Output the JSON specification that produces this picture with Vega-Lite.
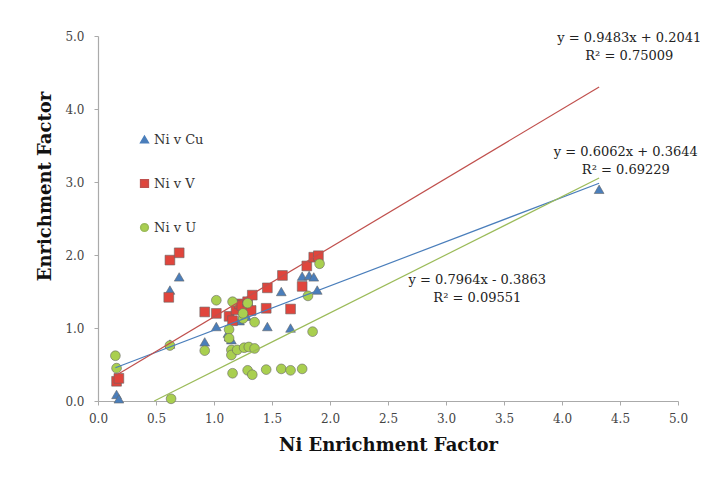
{
  "$schema": "https://vega.github.io/schema/vega-lite/v6.json",
  "width": 580,
  "height": 365,
  "autosize": {"type": "none"},
  "padding": {"left": 98, "top": 36, "right": 27, "bottom": 80},
  "background": "white",
  "config": {
    "view": {"stroke": null},
    "font": "DejaVu Serif",
    "axis": {
      "grid": false,
      "labelFont": "DejaVu Serif",
      "labelFontSize": 12,
      "labelColor": "#444",
      "titleFont": "DejaVu Serif",
      "titleFontSize": 18,
      "titleFontWeight": "bold",
      "titleColor": "#111",
      "domainColor": "#aaa",
      "domainWidth": 1.2,
      "tickColor": "#aaa",
      "tickSize": 4
    }
  },
  "datasets": {
    "pts": [
      {"series": "Ni v Cu", "ni": 0.16, "ef": 0.09},
      {"series": "Ni v Cu", "ni": 0.18, "ef": 0.03},
      {"series": "Ni v Cu", "ni": 0.62, "ef": 0.78},
      {"series": "Ni v Cu", "ni": 0.62, "ef": 1.52},
      {"series": "Ni v Cu", "ni": 0.70, "ef": 1.70},
      {"series": "Ni v Cu", "ni": 0.92, "ef": 0.81},
      {"series": "Ni v Cu", "ni": 1.02, "ef": 1.02},
      {"series": "Ni v Cu", "ni": 1.12, "ef": 0.93},
      {"series": "Ni v Cu", "ni": 1.15, "ef": 0.84},
      {"series": "Ni v Cu", "ni": 1.13, "ef": 0.88},
      {"series": "Ni v Cu", "ni": 1.22, "ef": 1.10},
      {"series": "Ni v Cu", "ni": 1.28, "ef": 1.16},
      {"series": "Ni v Cu", "ni": 1.46, "ef": 1.02},
      {"series": "Ni v Cu", "ni": 1.58, "ef": 1.50},
      {"series": "Ni v Cu", "ni": 1.66, "ef": 1.00},
      {"series": "Ni v Cu", "ni": 1.76, "ef": 1.71},
      {"series": "Ni v Cu", "ni": 1.82, "ef": 1.72},
      {"series": "Ni v Cu", "ni": 1.86, "ef": 1.70},
      {"series": "Ni v Cu", "ni": 1.89, "ef": 1.52},
      {"series": "Ni v Cu", "ni": 4.32, "ef": 2.90},
      {"series": "Ni v V", "ni": 0.16, "ef": 0.27},
      {"series": "Ni v V", "ni": 0.18, "ef": 0.31},
      {"series": "Ni v V", "ni": 0.61, "ef": 1.42},
      {"series": "Ni v V", "ni": 0.62, "ef": 1.93},
      {"series": "Ni v V", "ni": 0.70, "ef": 2.03},
      {"series": "Ni v V", "ni": 0.92, "ef": 1.22},
      {"series": "Ni v V", "ni": 1.02, "ef": 1.20},
      {"series": "Ni v V", "ni": 1.13, "ef": 1.16},
      {"series": "Ni v V", "ni": 1.16, "ef": 1.10},
      {"series": "Ni v V", "ni": 1.19, "ef": 1.25},
      {"series": "Ni v V", "ni": 1.22, "ef": 1.33},
      {"series": "Ni v V", "ni": 1.24, "ef": 1.31},
      {"series": "Ni v V", "ni": 1.29, "ef": 1.36},
      {"series": "Ni v V", "ni": 1.33, "ef": 1.45},
      {"series": "Ni v V", "ni": 1.32, "ef": 1.24},
      {"series": "Ni v V", "ni": 1.46, "ef": 1.55},
      {"series": "Ni v V", "ni": 1.45, "ef": 1.27},
      {"series": "Ni v V", "ni": 1.59, "ef": 1.72},
      {"series": "Ni v V", "ni": 1.66, "ef": 1.26},
      {"series": "Ni v V", "ni": 1.76, "ef": 1.57},
      {"series": "Ni v V", "ni": 1.80, "ef": 1.85},
      {"series": "Ni v V", "ni": 1.86, "ef": 1.97},
      {"series": "Ni v V", "ni": 1.90, "ef": 1.99},
      {"series": "Ni v U", "ni": 0.15, "ef": 0.62},
      {"series": "Ni v U", "ni": 0.16, "ef": 0.45},
      {"series": "Ni v U", "ni": 0.62, "ef": 0.76},
      {"series": "Ni v U", "ni": 0.63, "ef": 0.03},
      {"series": "Ni v U", "ni": 0.92, "ef": 0.69},
      {"series": "Ni v U", "ni": 1.02, "ef": 1.38},
      {"series": "Ni v U", "ni": 1.13, "ef": 0.98},
      {"series": "Ni v U", "ni": 1.13, "ef": 0.86},
      {"series": "Ni v U", "ni": 1.15, "ef": 0.70},
      {"series": "Ni v U", "ni": 1.15, "ef": 0.63},
      {"series": "Ni v U", "ni": 1.20, "ef": 0.70},
      {"series": "Ni v U", "ni": 1.26, "ef": 0.73},
      {"series": "Ni v U", "ni": 1.30, "ef": 0.74},
      {"series": "Ni v U", "ni": 1.35, "ef": 0.72},
      {"series": "Ni v U", "ni": 1.16, "ef": 0.38},
      {"series": "Ni v U", "ni": 1.29, "ef": 0.42},
      {"series": "Ni v U", "ni": 1.33, "ef": 0.36},
      {"series": "Ni v U", "ni": 1.45, "ef": 0.43},
      {"series": "Ni v U", "ni": 1.58, "ef": 0.44},
      {"series": "Ni v U", "ni": 1.66, "ef": 0.42},
      {"series": "Ni v U", "ni": 1.76, "ef": 0.44},
      {"series": "Ni v U", "ni": 1.85, "ef": 0.95},
      {"series": "Ni v U", "ni": 1.81, "ef": 1.44},
      {"series": "Ni v U", "ni": 1.91, "ef": 1.88},
      {"series": "Ni v U", "ni": 1.16, "ef": 1.36},
      {"series": "Ni v U", "ni": 1.29, "ef": 1.34},
      {"series": "Ni v U", "ni": 1.35, "ef": 1.08},
      {"series": "Ni v U", "ni": 1.25, "ef": 1.13},
      {"series": "Ni v U", "ni": 1.25, "ef": 1.20}
    ],
    "trend": [
      {"series": "Ni v Cu", "ni": 0.15, "ef": 0.455},
      {"series": "Ni v Cu", "ni": 4.32, "ef": 2.983},
      {"series": "Ni v V", "ni": 0.15, "ef": 0.346},
      {"series": "Ni v V", "ni": 4.32, "ef": 4.301},
      {"series": "Ni v U", "ni": 0.485, "ef": 0.0},
      {"series": "Ni v U", "ni": 4.32, "ef": 3.054}
    ],
    "labels": [
      {"t": "y = 0.9483x + 0.2041", "ni": 4.58, "ef": 4.97},
      {"t": "R² = 0.75009", "ni": 4.58, "ef": 4.72},
      {"t": "y = 0.6062x + 0.3644", "ni": 4.55, "ef": 3.41},
      {"t": "R² = 0.69229", "ni": 4.55, "ef": 3.16},
      {"t": "y = 0.7964x - 0.3863", "ni": 3.27, "ef": 1.66},
      {"t": "R² = 0.09551", "ni": 3.27, "ef": 1.41}
    ]
  },
  "layer": [
    {
      "data": {"name": "pts"},
      "mark": {"type": "point", "filled": true, "size": 95, "opacity": 1, "stroke": "#666", "strokeWidth": 0.6},
      "encoding": {
        "x": {
          "field": "ni", "type": "quantitative",
          "scale": {"domain": [0, 5], "nice": false, "zero": true},
          "axis": {"title": "Ni Enrichment Factor", "values": [0, 0.5, 1, 1.5, 2, 2.5, 3, 3.5, 4, 4.5, 5], "format": ".1f", "labelPadding": 8, "titlePadding": 12, "labelFlush": false}
        },
        "y": {
          "field": "ef", "type": "quantitative",
          "scale": {"domain": [0, 5], "nice": false},
          "axis": {"title": "Enrichment Factor", "values": [0, 0.5, 1, 1.5, 2, 2.5, 3, 3.5, 4, 4.5, 5], "format": ".1f", "labelPadding": 10, "titlePadding": 10, "titleY": 150, "labelFlush": false}
        },
        "color": {
          "field": "series", "type": "nominal",
          "scale": {"domain": ["Ni v Cu", "Ni v V", "Ni v U"], "range": ["#4a7ebb", "#e0453c", "#a9cf4f"]},
          "legend": {"orient": "none", "legendX": 40, "legendY": 97, "title": null, "rowPadding": 29, "labelFont": "DejaVu Serif", "labelFontSize": 13, "labelColor": "#333", "symbolSize": 60, "labelOffset": 3}
        },
        "shape": {
          "field": "series", "type": "nominal",
          "scale": {"domain": ["Ni v Cu", "Ni v V", "Ni v U"], "range": ["triangle-up", "square", "circle"]},
          "legend": {"orient": "none", "legendX": 40, "legendY": 97, "title": null, "rowPadding": 29, "labelFont": "DejaVu Serif", "labelFontSize": 13, "labelColor": "#333", "symbolSize": 60, "labelOffset": 3}
        }
      }
    },
    {
      "data": {"name": "trend"},
      "mark": {"type": "line", "strokeWidth": 1.2},
      "encoding": {
        "x": {"field": "ni", "type": "quantitative"},
        "y": {"field": "ef", "type": "quantitative"},
        "detail": {"field": "series", "type": "nominal"},
        "stroke": {
          "field": "series", "type": "nominal",
          "scale": {"domain": ["Ni v Cu", "Ni v V", "Ni v U"], "range": ["#4a7ebb", "#c0504d", "#9bbb59"]},
          "legend": null
        }
      }
    },
    {
      "data": {"name": "labels"},
      "mark": {"type": "text", "font": "DejaVu Serif", "fontSize": 13, "color": "#222", "align": "center", "baseline": "middle"},
      "encoding": {
        "x": {"field": "ni", "type": "quantitative"},
        "y": {"field": "ef", "type": "quantitative"},
        "text": {"field": "t", "type": "nominal"}
      }
    }
  ]
}
